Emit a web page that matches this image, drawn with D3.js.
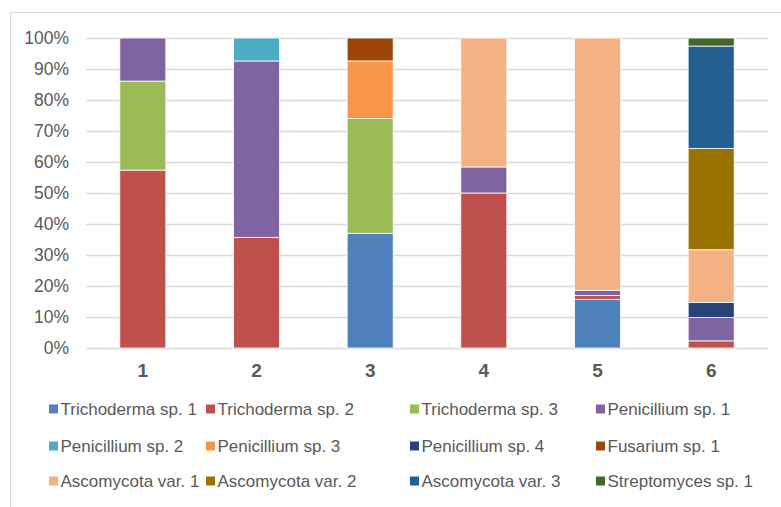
<!DOCTYPE html>
<html>
<head>
<meta charset="utf-8">
<script src="https://cdn.jsdelivr.net/npm/d3@7"></script>
<style>
  html, body { margin: 0; padding: 0; background: #fff; }
  svg { display: block; font-family: "Liberation Sans", Arial, sans-serif; }
</style>
</head>
<body>
<svg id="chart" width="781" height="507"></svg>
<script>
// Samples on the x axis
const categories = ["1", "2", "3", "4", "5", "6"];

// Taxa, bottom to top of each stack
const seriesNames = [
  "Trichoderma sp. 1", "Trichoderma sp. 2", "Trichoderma sp. 3", "Penicillium sp. 1",
  "Penicillium sp. 2", "Penicillium sp. 3", "Penicillium sp. 4", "Fusarium sp. 1",
  "Ascomycota var. 1", "Ascomycota var. 2", "Ascomycota var. 3", "Streptomyces sp. 1"
];

const seriesColors = [
  "#4f81bd", "#c0504d", "#9bbb59", "#8064a2",
  "#4bacc6", "#f79646", "#264478", "#9c4709",
  "#f4b183", "#997300", "#255e91", "#43682b"
];

// Relative abundance (%) of each taxon in samples 1..6
const trichoderma1 = [0, 0, 37.0, 0, 15.7, 0];
const trichoderma2 = [57.4, 35.7, 0, 50.0, 1.2, 2.3];
const trichoderma3 = [28.7, 0, 37.0, 0, 0, 0];
const penicillium1 = [13.9, 56.9, 0, 8.4, 1.7, 7.5];
const penicillium2 = [0, 7.4, 0, 0, 0, 0];
const penicillium3 = [0, 0, 18.6, 0, 0, 0];
const penicillium4 = [0, 0, 0, 0, 0, 4.9];
const fusarium1 = [0, 0, 7.4, 0, 0, 0];
const ascomycota1 = [0, 0, 0, 41.6, 81.4, 17.0];
const ascomycota2 = [0, 0, 0, 0, 0, 32.7];
const ascomycota3 = [0, 0, 0, 0, 0, 33.0];
const streptomyces1 = [0, 0, 0, 0, 0, 2.6];

const yTickLabels = ["0%", "10%", "20%", "30%", "40%", "50%", "60%", "70%", "80%", "90%", "100%"];

const seriesValues = [
  trichoderma1, trichoderma2, trichoderma3, penicillium1,
  penicillium2, penicillium3, penicillium4, fusarium1,
  ascomycota1, ascomycota2, ascomycota3, streptomyces1
];

// Rows for d3.stack, each sample normalised to 100 %
const rows = categories.map((c, i) => {
  const total = d3.sum(seriesValues, s => s[i]);
  const row = { category: c };
  seriesNames.forEach((n, k) => { row[n] = seriesValues[k][i] / total; });
  return row;
});

const stacked = d3.stack().keys(seriesNames)(rows);

const svg = d3.select("#chart");
const textColor = "#595959";
const gridColor = "#d9d9d9";

// Chart frame
svg.append("path")
  .attr("d", "M10.5,507 V12.5 H781")
  .attr("fill", "none")
  .attr("stroke", gridColor)
  .attr("stroke-width", 1);

const plot = { left: 86, right: 768, top: 38, bottom: 348 };

const x = d3.scaleBand()
  .domain(categories)
  .range([plot.left, plot.right])
  .paddingInner(0.595)
  .paddingOuter(0.2975);

const y = d3.scaleLinear()
  .domain([0, 1])
  .range([plot.bottom, plot.top]);

// Gridlines and y labels
const yAxis = d3.axisLeft(y)
  .tickValues(d3.range(0, 1.0001, 0.1))
  .tickFormat((d, i) => yTickLabels[i])
  .tickSize(-(plot.right - plot.left))
  .tickPadding(17);

const yg = svg.append("g")
  .attr("transform", `translate(${plot.left},0)`)
  .call(yAxis);
yg.select(".domain").remove();
yg.selectAll(".tick line")
  .attr("stroke", gridColor)
  .attr("stroke-width", 1.3);
yg.selectAll(".tick text")
  .attr("fill", textColor)
  .attr("font-size", "17.5px")
  .attr("font-family", "'Liberation Sans', Arial, sans-serif");

// Stacked bars
svg.append("g")
  .selectAll("g")
  .data(stacked)
  .join("g")
  .attr("fill", (d, i) => seriesColors[i])
  .selectAll("rect")
  .data(d => d.filter(p => p[1] - p[0] > 0))
  .join("rect")
  .attr("x", d => x(d.data.category))
  .attr("width", x.bandwidth())
  .attr("y", d => y(d[1]))
  .attr("height", d => y(d[0]) - y(d[1]))
  .attr("stroke", "#ffffff")
  .attr("stroke-width", 0.8);

// Category axis labels
const xAxis = d3.axisBottom(x).tickSize(0).tickPadding(16);
const xg = svg.append("g")
  .attr("transform", `translate(0,${plot.bottom})`)
  .call(xAxis);
xg.select(".domain").remove();
xg.selectAll(".tick text")
  .attr("fill", textColor)
  .attr("font-size", "19px")
  .attr("font-weight", "bold")
  .attr("font-family", "'Liberation Sans', Arial, sans-serif");

// Legend: 4 columns x 3 rows
const legendCols = [49, 206, 410, 596];
const legendRows = [409, 446, 481];
const legend = svg.append("g")
  .selectAll("g")
  .data(seriesNames)
  .join("g")
  .attr("transform", (d, i) => `translate(${legendCols[i % 4]},${legendRows[Math.floor(i / 4)]})`);

legend.append("rect")
  .attr("x", 0)
  .attr("y", -4.5)
  .attr("width", 9)
  .attr("height", 9)
  .attr("fill", (d, i) => seriesColors[i]);

legend.append("text")
  .attr("x", 11.5)
  .attr("y", 0)
  .attr("dy", "0.35em")
  .attr("fill", textColor)
  .attr("font-size", "17px")
  .text(d => d);
</script>
</body>
</html>
